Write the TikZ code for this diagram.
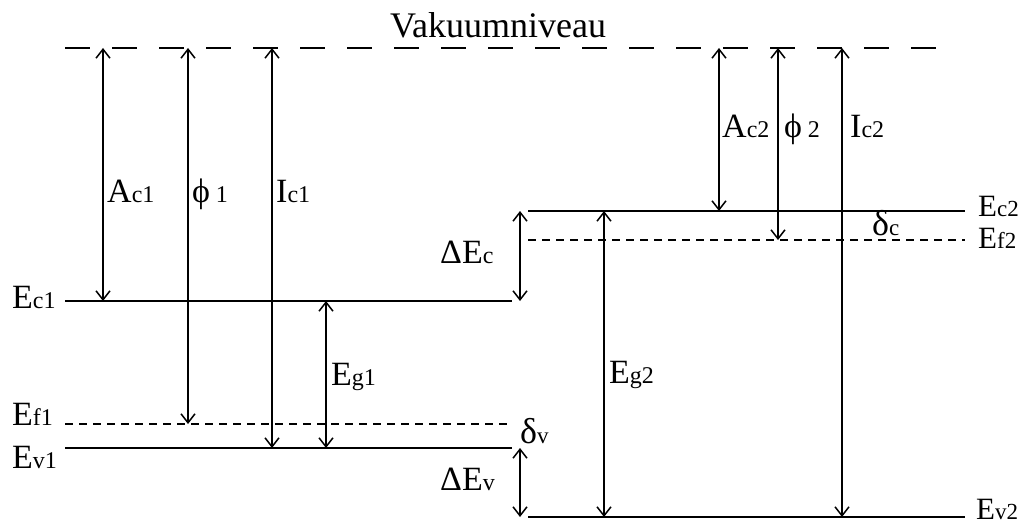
\documentclass[tikz,border=0pt]{standalone}
\usepackage{fontspec}
\setmainfont{Liberation Serif}
\usetikzlibrary{arrows.meta}
\newcommand\lsub[1]{{\fontsize{24}{24}\selectfont #1}}
\newcommand\rsub[1]{{\fontsize{23}{23}\selectfont #1}}
\begin{document}
\begin{tikzpicture}[x=1pt,y=-1pt,
  level/.style={line width=1.7pt},
  fermi/.style={line width=1.5pt, dash pattern=on 8pt off 6pt},
  vac/.style={line width=1.7pt, dash pattern=on 25pt off 22pt},
  dim/.style={line width=1.5pt, {Straight Barb[length=9pt,width=14pt]}-{Straight Barb[length=9pt,width=14pt]}},
  lab/.style={anchor=base west, inner sep=0pt, font=\fontsize{34}{40}\selectfont},
  rlab/.style={anchor=base west, inner sep=0pt, font=\fontsize{31}{34}\selectfont},
  dlab/.style={anchor=base west, inner sep=0pt, font=\fontsize{36}{40}\selectfont},
]
\useasboundingbox (0,0) rectangle (1031,527);
% levels
\coordinate (vacL) at (65,48);   \coordinate (vacR) at (945,48);
\coordinate (ec1L) at (65,301);  \coordinate (ec1R) at (512,301);
\coordinate (ef1L) at (65,424);  \coordinate (ef1R) at (512,424);
\coordinate (ev1L) at (65,448);  \coordinate (ev1R) at (512,448);
\coordinate (ec2L) at (528,211); \coordinate (ec2R) at (965,211);
\coordinate (ef2L) at (528,240); \coordinate (ef2R) at (965,240);
\coordinate (ev2L) at (528,517); \coordinate (ev2R) at (965,517);
\draw[vac] (vacL) -- (vacR);
\draw[level] (ec1L) -- (ec1R);
\draw[fermi] (ef1L) -- (ef1R);
\draw[level] (ev1L) -- (ev1R);
\draw[level] (ec2L) -- (ec2R);
\draw[fermi] (ef2L) -- (ef2R);
\draw[level] (ev2L) -- (ev2R);
% arrow end points
\coordinate (ac1t) at (103,48);  \coordinate (ac1b) at (103,301);
\coordinate (ph1t) at (188,48);  \coordinate (ph1b) at (188,424);
\coordinate (ic1t) at (272,48);  \coordinate (ic1b) at (272,448);
\coordinate (eg1t) at (326,301); \coordinate (eg1b) at (326,448);
\coordinate (dect) at (520,211); \coordinate (decb) at (520,301);
\coordinate (devt) at (520,448); \coordinate (devb) at (520,517);
\coordinate (eg2t) at (604,211); \coordinate (eg2b) at (604,517);
\coordinate (ac2t) at (719,48);  \coordinate (ac2b) at (719,211);
\coordinate (ph2t) at (778,48);  \coordinate (ph2b) at (778,240);
\coordinate (ic2t) at (842,48);  \coordinate (ic2b) at (842,517);
\draw[dim] (ac1t) -- (ac1b);
\draw[dim] (ph1t) -- (ph1b);
\draw[dim] (ic1t) -- (ic1b);
\draw[dim] (eg1t) -- (eg1b);
\draw[dim] (dect) -- (decb);
\draw[dim] (devt) -- (devb);
\draw[dim] (eg2t) -- (eg2b);
\draw[dim] (ac2t) -- (ac2b);
\draw[dim] (ph2t) -- (ph2b);
\draw[dim] (ic2t) -- (ic2b);
% labels
\node[anchor=base, inner sep=0pt, font=\fontsize{36}{40}\selectfont] (vak) at (498,38) {Vakuumniveau};
\node[lab] (lEc1) at (12,308) {E\lsub{c1}};
\node[lab] (lEf1) at (12,425) {E\lsub{f1}};
\node[lab] (lEv1) at (12,468) {E\lsub{v1}};
\node[lab] (lAc1) at (107,202) {A\lsub{c1}};
\node[lab] (lph1) at (192,202) {ϕ\,\lsub{1}};
\node[lab] (lIc1) at (276,202) {I\lsub{c1}};
\node[lab] (lEg1) at (331,385) {E\lsub{g1}};
\node[lab] (ldEc) at (440,263) {ΔE\lsub{c}};
\node[lab] (ldEv) at (440,490) {ΔE\lsub{v}};
\node[dlab] (ldv) at (520,443) {δ\rsub{v}};
\node[dlab] (ldc) at (872,235) {δ\rsub{c}};
\node[rlab] (lEc2) at (978,216) {E\rsub{c2}};
\node[rlab] (lEf2) at (978,248) {E\rsub{f2}};
\node[rlab] (lEv2) at (976,519) {E\rsub{v2}};
\node[lab] (lEg2) at (609,383) {E\lsub{g2}};
\node[lab] (lAc2) at (722,137) {A\lsub{c2}};
\node[lab] (lph2) at (784,137) {ϕ\,\lsub{2}};
\node[lab] (lIc2) at (850,137) {I\lsub{c2}};
\end{tikzpicture}
\end{document}
